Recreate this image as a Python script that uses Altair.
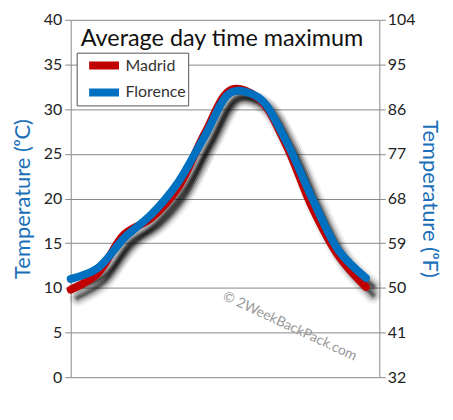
import altair as alt
import pandas as pd

months = ["Jan", "Feb", "Mar", "Apr", "May", "Jun", "Jul", "Aug", "Sep", "Oct", "Nov", "Dec"]
madrid = [9.8, 11.6, 16.0, 17.8, 21.2, 27.3, 32.2, 31.2, 26.2, 19.0, 13.5, 10.1]
florence = [11.0, 12.2, 15.6, 18.2, 21.8, 27.0, 31.9, 31.3, 26.6, 20.0, 14.1, 11.1]
cities = ["Madrid", "Florence"]
colors = ["#c00000", "#0070c0"]
c_ticks = list(range(0, 41, 5))

rows = []
for city, vals in zip(cities, [madrid, florence]):
    for i, (m, v) in enumerate(zip(months, vals)):
        rows.append({"idx": i, "month": m, "city": city, "temp": v})
df = pd.DataFrame(rows)

FONT = "Lato"
BLUE = "#1a6fb8"
month_expr = "[" + ",".join("'%s'" % m for m in months) + "][datum.value]"

xscale = alt.Scale(domain=[0, 11.5], nice=False, zero=False)
yscale = alt.Scale(domain=[0, 40], nice=False, zero=True)

x_axis = alt.Axis(values=list(range(12)), labelExpr=month_expr, title=None, grid=False,
                  domainColor="#888", tickColor="#888", tickSize=6, labelFontSize=14,
                  labelColor="#333", labelFont=FONT, labelPadding=4)
x_plain = alt.X("idx:Q", scale=xscale, axis=None)
y_plain = alt.Y("temp:Q", scale=yscale, axis=None)

color = alt.Color("city:N", scale=alt.Scale(domain=cities, range=colors),
                  legend=alt.Legend(orient="none", legendX=6, legendY=33, title=None,
                                    strokeColor="#555", fillColor="white", padding=2,
                                    symbolType="M-2,0H2", symbolStrokeWidth=8,
                                    symbolSize=225, symbolOffset=14, clipHeight=22,
                                    labelFontSize=16, labelFont=FONT, labelColor="#333",
                                    rowPadding=5, labelOffset=10))

base = alt.Chart(df)

left = base.mark_line(opacity=0).encode(
    x=alt.X("idx:Q", scale=xscale, axis=x_axis),
    y=alt.Y("temp:Q", scale=yscale,
            axis=alt.Axis(values=c_ticks, title="Temperature  (ᵒC)", titleColor=BLUE,
                          titleFontSize=22, titleFont=FONT, titleFontWeight="normal",
                          titlePadding=9, grid=True, gridColor="#888", domainColor="#888",
                          tickColor="#888", tickSize=6, labelFontSize=16, labelColor="#222",
                          labelFont=FONT, labelPadding=3)),
    detail="city:N")

right = base.mark_line(opacity=0).encode(
    x=x_plain,
    y=alt.Y("temp:Q", scale=yscale,
            axis=alt.Axis(orient="right", values=c_ticks,
                          labelExpr="format(datum.value*9/5+32,'d')",
                          title="Temperature  (ᵒF)", titleColor=BLUE, titleFontSize=22,
                          titleFont=FONT, titleFontWeight="normal", titlePadding=3,
                          grid=False, domainColor="#888", tickColor="#888", tickSize=6,
                          labelFontSize=16, labelColor="#222", labelFont=FONT,
                          labelPadding=2)),
    detail="city:N")

watermark = alt.Chart(pd.DataFrame({"t": ["© 2WeekBackPack.com"]})).mark_text(
    angle=25, fontSize=14, color="#999", font=FONT
).encode(text="t:N", x=alt.value(220), y=alt.value(308))

title = alt.Chart(pd.DataFrame({"t": ["Average day time maximum"]})).mark_text(
    fontSize=23.5, color="#111", font=FONT
).encode(text="t:N", x=alt.value(152), y=alt.value(19))

shadows = []
for w, op in [(18, 0.05), (14, 0.08), (10, 0.14), (6, 0.25), (3, 0.3)]:
    shadows.append(base.mark_line(interpolate="catmull-rom", strokeWidth=w, color="black",
                                  opacity=op, xOffset=7, yOffset=8, strokeCap="round").encode(
        x=x_plain, y=y_plain, detail="city:N"))

madrid_line = base.transform_filter("datum.city == 'Madrid'").mark_line(
    interpolate="catmull-rom", strokeWidth=8, strokeCap="round").encode(
    x=x_plain, y=y_plain, color=color)
florence_line = base.transform_filter("datum.city == 'Florence'").mark_line(
    interpolate="catmull-rom", strokeWidth=8, strokeCap="round").encode(
    x=x_plain, y=y_plain, color=color)

chart = alt.layer(left, right, watermark, *shadows, madrid_line, florence_line, title).resolve_scale(
    y="independent"
).properties(
    width=310, height=359, background="white",
    padding={"left": 3, "right": 4, "top": 3, "bottom": 0}
).configure_view(stroke=None)

chart.save("out.html", embed_options={"renderer": "svg", "actions": False})
